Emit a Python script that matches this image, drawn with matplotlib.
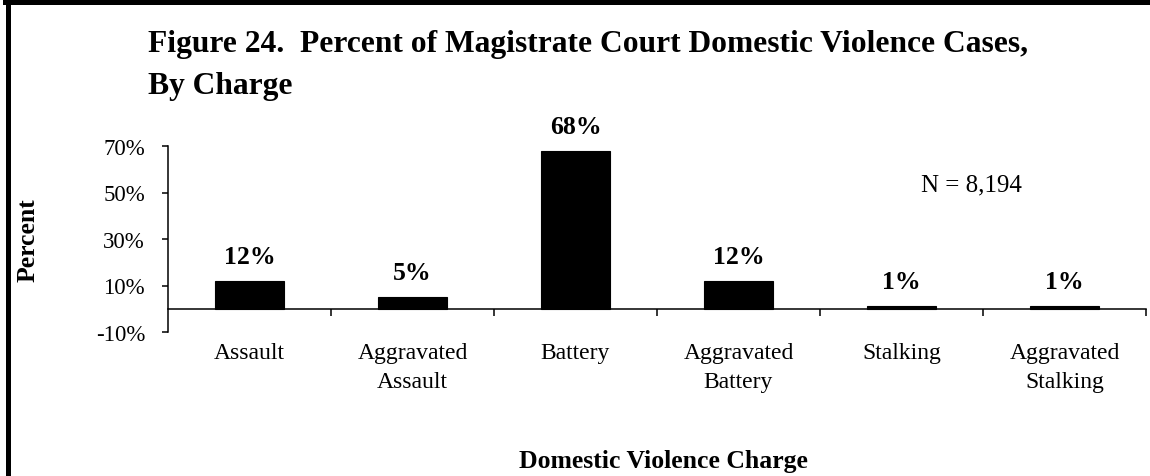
import matplotlib
matplotlib.use("Agg")
import matplotlib.pyplot as plt
from matplotlib.lines import Line2D

# charge categories and share of cases
charges = [
    "Assault",
    "Aggravated\nAssault",
    "Battery",
    "Aggravated\nBattery",
    "Stalking",
    "Aggravated\nStalking",
]
percents = [12, 5, 68, 12, 1, 1]
y_ticks = [-10, 10, 30, 50, 70]
n_cases = 8194

title_line1 = "Figure 24.  Percent of Magistrate Court Domestic Violence Cases,"
title_line2 = "By Charge"

plt.rcParams["font.family"] = ["Liberation Serif", "DejaVu Serif"]

W, H = 1150, 477
fig = plt.figure(figsize=(W / 100, H / 100), dpi=100)
ax = fig.add_axes([168 / W, 1 - 333 / H, (1146 - 168) / W, (333 - 147) / H])

x = list(range(1, len(charges) + 1))
ax.bar(x, percents, width=0.42, color="black", edgecolor="black", linewidth=0.8)
for xi, p in zip(x, percents):
    ax.annotate(f"{p}%", (xi, p), xytext=(0, 13), textcoords="offset points",
                ha="center", va="baseline", fontsize=18.5, fontweight="bold")

ax.set_xlim(0.5, len(charges) + 0.5)
ax.set_ylim(-10, 70)
ax.set_yticks(y_ticks)
ax.set_yticklabels([f"{v}%" for v in y_ticks])

# x axis sits on the zero line, category separators as small ticks
ax.spines["bottom"].set_position(("data", 0))
ax.spines["top"].set_visible(False)
ax.spines["right"].set_visible(False)
for s in ("left", "bottom"):
    ax.spines[s].set_linewidth(1.1)

ax.set_xticks(x)
ax.set_xticklabels(charges)
for lbl in ax.get_xticklabels():
    lbl.set_linespacing(1.5)
ax.set_xticks([i + 0.5 for i in x], minor=True)
ax.tick_params(axis="x", which="major", length=0, pad=24, labelsize=17)
ax.tick_params(axis="x", which="minor", length=5, width=1.1, direction="out")
ax.tick_params(axis="y", length=4.5, width=1.1, labelsize=16.5, pad=12)

fig.text(148 / W, 1 - 52 / H, title_line1, fontsize=22.7, fontweight="bold", va="baseline")
fig.text(148 / W, 1 - 94 / H, title_line2, fontsize=22.7, fontweight="bold", va="baseline")

fig.text(28 / W, 1 - 240 / H, "Percent", rotation=90, ha="center", va="center",
         fontsize=18.5, fontweight="bold")
fig.text(663 / W, 1 - 462 / H, "Domestic Violence Charge", ha="center", va="center",
         fontsize=18.5, fontweight="bold")
fig.text(971 / W, 1 - 185 / H, f"N = {n_cases:,}", ha="center", va="center", fontsize=18)

# frame lines on the left and top edges
fig.add_artist(Line2D([7.5 / W, 7.5 / W], [0, 1 - 2.5 / H], transform=fig.transFigure,
                      color="black", linewidth=3.6))
fig.add_artist(Line2D([5 / W, 1], [1 - 2.5 / H, 1 - 2.5 / H], transform=fig.transFigure,
                      color="black", linewidth=3.6))

fig.savefig("out.png", dpi=100)
